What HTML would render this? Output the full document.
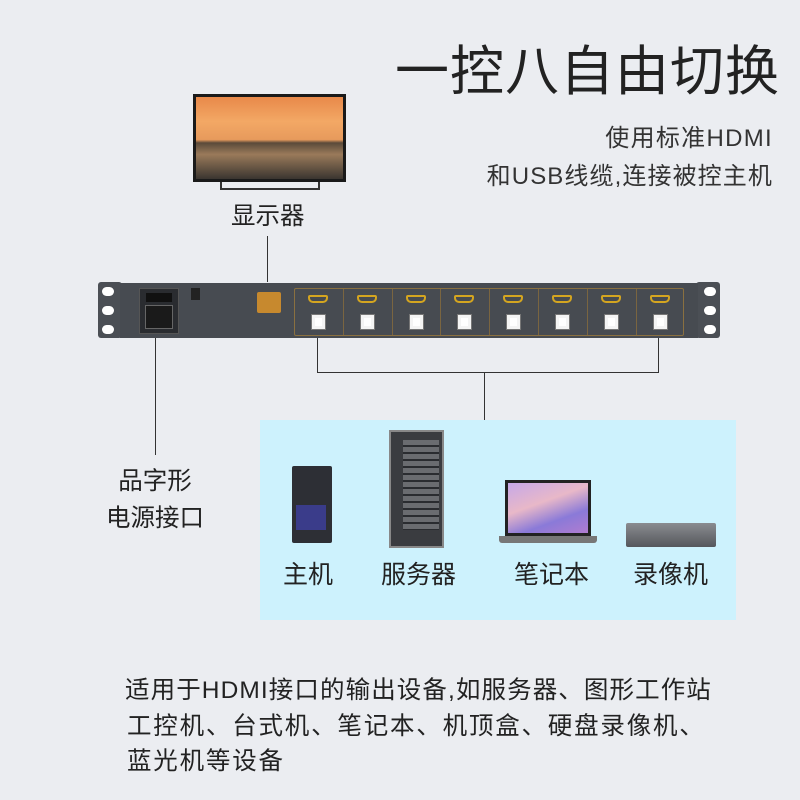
<!DOCTYPE html>
<html><head><meta charset="utf-8"><style>
*{margin:0;padding:0;box-sizing:border-box}
body{width:800px;height:800px;background:#ebedf1;position:relative;overflow:hidden;font-family:"Liberation Sans","Noto Sans CJK SC",sans-serif;color:#222}
.a{position:absolute}
.t{position:absolute;white-space:nowrap;font-family:"Liberation Sans","Noto Sans CJK SC",sans-serif}
.ln{position:absolute;background:#333}
</style></head><body>
<div class="t" style="right:20px;top:40px;font-size:54px;line-height:64px;color:#222;letter-spacing:1px">一控八自由切换</div>
<div class="t" style="right:27px;top:124px;font-size:24px;line-height:30px;color:#333;letter-spacing:1.3px">使用标准HDMI</div>
<div class="t" style="right:27px;top:162px;font-size:24px;line-height:30px;color:#333;letter-spacing:1.1px">和USB线缆,连接被控主机</div>

<!-- TV -->
<div class="a" style="left:193px;top:94px;width:153px;height:88px;background:#1a1a1a;padding:3px">
 <div style="width:100%;height:100%;background:linear-gradient(#e8894a 0%,#f3a865 30%,#e79a5c 52%,#5a4a3a 56%,#9a7a5a 70%,#3a3530 100%)"></div>
</div>
<div class="a" style="left:220px;top:182px;width:100px;height:8px;border:2px solid #333;border-top:none"></div>
<div class="t" style="left:231px;top:201px;font-size:24.5px;line-height:32px">显示器</div>
<div class="ln" style="left:267px;top:236px;width:1px;height:46px"></div>

<!-- Device -->
<div class="a" style="left:98px;top:282px;width:24px;height:56px;background:#4b4f55;border-radius:3px"></div>
<div class="a" style="left:696px;top:282px;width:24px;height:56px;background:#4b4f55;border-radius:3px"></div>
<div class="a" style="left:102px;top:287px;width:12px;height:9px;background:#fff;border-radius:5px"></div>
<div class="a" style="left:102px;top:306px;width:12px;height:9px;background:#fff;border-radius:5px"></div>
<div class="a" style="left:102px;top:325px;width:12px;height:9px;background:#fff;border-radius:5px"></div>
<div class="a" style="left:704px;top:287px;width:12px;height:9px;background:#fff;border-radius:5px"></div>
<div class="a" style="left:704px;top:306px;width:12px;height:9px;background:#fff;border-radius:5px"></div>
<div class="a" style="left:704px;top:325px;width:12px;height:9px;background:#fff;border-radius:5px"></div>
<div class="a" style="left:120px;top:283px;width:578px;height:55px;background:#474b51"></div>
<div class="a" style="left:139px;top:288px;width:40px;height:46px;background:#2a2c30;border:1px solid #555"></div>
<div class="a" style="left:146px;top:293px;width:26px;height:9px;background:#111"></div>
<div class="a" style="left:145px;top:305px;width:28px;height:24px;background:#1a1a1a;border:1px solid #666"></div>
<div class="a" style="left:191px;top:288px;width:9px;height:12px;background:#222"></div>
<div class="a" style="left:257px;top:292px;width:24px;height:21px;background:#c7892e;border-radius:2px"></div>
<div class="a" style="left:294px;top:288px;width:390px;height:48px;border:1px solid #8a7040;border-radius:2px"></div>
<div id="bays"></div>
<script>
var h='';for(var i=0;i<8;i++){var x=294+i*48.8;
h+='<div class="a" style="left:'+(x+14)+'px;top:295px;width:20px;height:8px;border:2px solid #d4a520;border-radius:2px 2px 5px 5px"></div>';
h+='<div class="a" style="left:'+(x+18)+'px;top:315px;width:13px;height:14px;background:#fff;border:3px solid #f4f4f4;outline:1px solid #777"></div>';
if(i>0)h+='<div class="a" style="left:'+x+'px;top:289px;width:1px;height:46px;background:#7a6540"></div>';}
document.getElementById('bays').innerHTML=h;
</script>

<!-- connectors -->
<div class="ln" style="left:155px;top:338px;width:1px;height:117px"></div>
<div class="ln" style="left:317px;top:338px;width:1px;height:35px"></div>
<div class="ln" style="left:658px;top:338px;width:1px;height:35px"></div>
<div class="ln" style="left:317px;top:372px;width:342px;height:1px"></div>
<div class="ln" style="left:484px;top:372px;width:1px;height:48px"></div>

<div class="t" style="left:105px;top:466px;width:100px;text-align:center;font-size:24.5px;line-height:32px">品字形</div>
<div class="t" style="left:95px;top:503px;width:120px;text-align:center;font-size:24.5px;line-height:32px">电源接口</div>

<!-- blue box -->
<div class="a" style="left:260px;top:420px;width:476px;height:200px;background:#cdf2fd"></div>
<!-- PC -->
<div class="a" style="left:292px;top:466px;width:40px;height:77px;background:#2d2f35;border-radius:2px"></div>
<div class="a" style="left:296px;top:505px;width:30px;height:25px;background:#3a3c8a"></div>
<!-- server -->
<div class="a" style="left:389px;top:430px;width:55px;height:118px;background:#3a3c40;border:2px solid #888"></div>
<div class="a" style="left:403px;top:440px;width:36px;height:90px;background:repeating-linear-gradient(#6a6c70 0 5px,#2a2c30 5px 7px)"></div>
<!-- laptop -->
<div class="a" style="left:505px;top:480px;width:86px;height:56px;background:#222;padding:3px"><div style="width:100%;height:100%;background:linear-gradient(160deg,#c6a8e8,#e8b8c8 40%,#8a7ad8 70%,#b07cd0)"></div></div>
<div class="a" style="left:499px;top:536px;width:98px;height:7px;background:#777;border-radius:0 0 3px 3px"></div>
<!-- DVR -->
<div class="a" style="left:626px;top:523px;width:90px;height:24px;background:linear-gradient(#8a8c90,#55575c);border-radius:2px"></div>
<div class="t" style="left:283px;top:558px;font-size:25px;line-height:34px">主机</div>
<div class="t" style="left:381px;top:558px;font-size:25px;line-height:34px">服务器</div>
<div class="t" style="left:514px;top:558px;font-size:25px;line-height:34px">笔记本</div>
<div class="t" style="left:633px;top:558px;font-size:25px;line-height:34px">录像机</div>

<div class="t" style="left:125px;top:674px;font-size:24.5px;line-height:34px;letter-spacing:1.1px">适用于HDMI接口的输出设备,如服务器、图形工作站</div>
<div class="t" style="left:127px;top:710px;font-size:24.5px;line-height:34px;letter-spacing:1.8px">工控机、台式机、笔记本、机顶盒、硬盘录像机、</div>
<div class="t" style="left:127px;top:745px;font-size:24.5px;line-height:34px;letter-spacing:1.8px">蓝光机等设备</div>
</body></html>
